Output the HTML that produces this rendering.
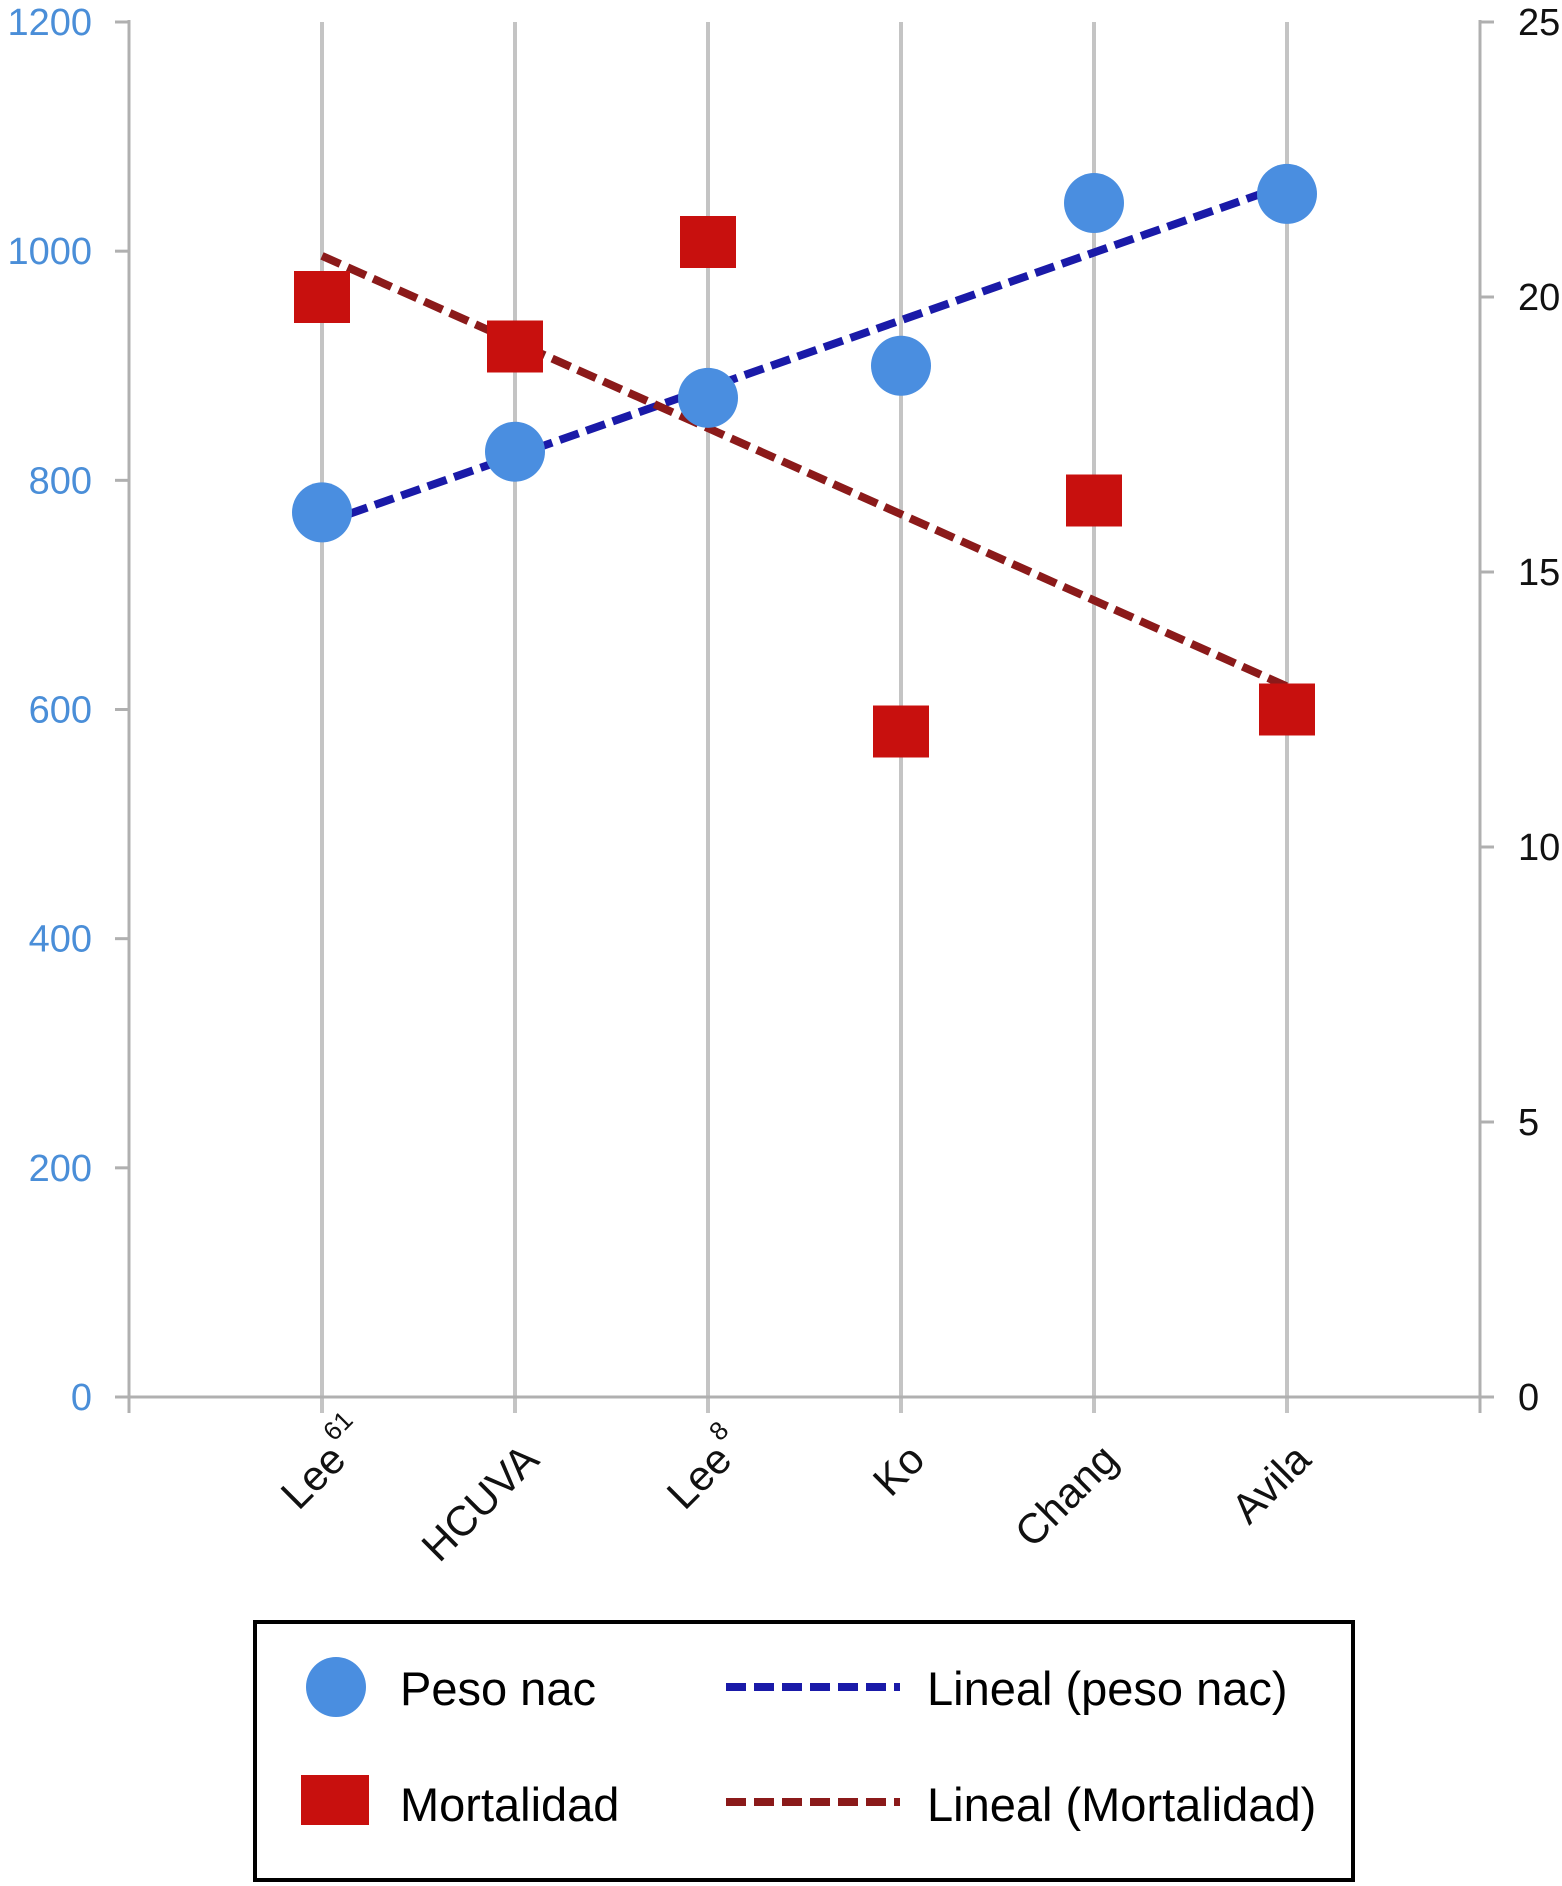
<!DOCTYPE html>
<html><head><meta charset="utf-8"><style>
body{margin:0;background:#fff;}
svg{display:block;font-family:"Liberation Sans",sans-serif;}
</style></head><body>
<svg id="chart" width="1562" height="1886" viewBox="0 0 1562 1886">
<g id="grid"></g>
<g id="axes"></g>
<g id="trends"></g>
<g id="marks"></g>
<g id="xlabels"></g>
<g>
  <rect x="255" y="1622" width="1098" height="258" fill="none" stroke="#000" stroke-width="4"/>
  <circle cx="336" cy="1687" r="30" fill="#4a8ee0"/>
  <text x="400" y="1705" font-size="47" fill="#000">Peso nac</text>
  <rect x="301" y="1775" width="68" height="50" fill="#c8100e"/>
  <text x="400" y="1821" font-size="47" fill="#000">Mortalidad</text>
  <line x1="726" y1="1687" x2="900" y2="1687" stroke="#1a1aa8" stroke-width="8" stroke-dasharray="20,8"/>
  <text x="927" y="1705" font-size="47" fill="#000">Lineal (peso nac)</text>
  <line x1="726" y1="1802" x2="900" y2="1802" stroke="#8b1a1a" stroke-width="8" stroke-dasharray="20,8"/>
  <text x="927" y="1821" font-size="47" fill="#000">Lineal (Mortalidad)</text>
</g>
</svg>
<script>
const categories = ["Lee", "HCUVA", "Lee", "Ko", "Chang", "Avila"];
const superscripts = ["61", "", "8", "", "", ""];
const pesoValues = [772, 825, 872, 900, 1042, 1050];
const mortalidadValues = [20.0, 19.1, 21.0, 12.1, 16.3, 12.5];
const leftTicks = [0, 200, 400, 600, 800, 1000, 1200];
const rightTicks = [0, 5, 10, 15, 20, 25];

const NS = "http://www.w3.org/2000/svg";
const X0 = 129, X1 = 1480, Y0 = 1397, YT = 22;
const n = categories.length;
const step = (X1 - X0) / (n + 1);
function xPos(i){ return X0 + step * (i + 1); }
function yLeft(v){ return Y0 - (v / 1200) * (Y0 - YT); }
function yRight(v){ return Y0 - (v / 25) * (Y0 - YT); }
function mk(tag, attrs, parent){ const e = document.createElementNS(NS, tag); for (const k in attrs) e.setAttribute(k, attrs[k]); parent.appendChild(e); return e; }

const grid = document.getElementById('grid'), axes = document.getElementById('axes'),
  trends = document.getElementById('trends'), marks = document.getElementById('marks'), xl = document.getElementById('xlabels');

for (let i = 0; i < n; i++) {
  const l = mk('line', {x1: xPos(i), y1: YT, x2: xPos(i), y2: 1413, stroke: '#c4c4c4', 'stroke-width': 4}, grid);
  
  
}
const la = mk('line', {x1: X0, y1: YT - 2, x2: X0, y2: 1413, stroke: '#b0b0b0', 'stroke-width': 3}, axes);
 
const ra = mk('line', {x1: X1, y1: YT - 2, x2: X1, y2: 1413, stroke: '#b0b0b0', 'stroke-width': 3}, axes);
 
const xa = mk('line', {x1: X0, y1: Y0, x2: X1 + 12, y2: Y0, stroke: '#b0b0b0', 'stroke-width': 3}, axes);
 
leftTicks.forEach(v => {
  const y = yLeft(v);
  mk('line', {x1: X0 - 14, y1: y, x2: X0, y2: y, stroke: '#b0b0b0', 'stroke-width': 3}, axes);
  const t = mk('text', {x: 92, y: y + 13, 'text-anchor': 'end', 'font-size': 38, fill: '#4a8ed8'}, axes);
  t.textContent = v;
  
  
});
rightTicks.forEach(v => {
  const y = yRight(v);
  mk('line', {x1: X1, y1: y, x2: X1 + 14, y2: y, stroke: '#b0b0b0', 'stroke-width': 3}, axes);
  const t = mk('text', {x: 1518, y: y + 13, 'font-size': 38, fill: '#111'}, axes);
  t.textContent = v;
  
  
});
function fit(vals){ const m = vals.length, mx = (m - 1) / 2, my = vals.reduce((a, b) => a + b, 0) / m;
  let sxy = 0, sxx = 0; vals.forEach((v, i) => { sxy += (i - mx) * (v - my); sxx += (i - mx) * (i - mx); });
  const b = sxy / sxx; return [my - b * mx, my + b * (m - 1 - mx)]; }
const pf = fit(pesoValues), mf = fit(mortalidadValues);
const tp = mk('line', {x1: xPos(0), y1: yLeft(pf[0]), x2: xPos(n - 1), y2: yLeft(pf[1]), stroke: '#1a1aa8', 'stroke-width': 8, 'stroke-dasharray': '20,8'}, trends);
 
const tm = mk('line', {x1: xPos(0), y1: yRight(mf[0]), x2: xPos(n - 1), y2: yRight(mf[1]), stroke: '#8b1a1a', 'stroke-width': 8, 'stroke-dasharray': '20,8'}, trends);
 
mortalidadValues.forEach((v, i) => {
  const r = mk('rect', {x: xPos(i) - 28, y: yRight(v) - 26, width: 56, height: 52, fill: '#c8100e'}, marks);
  
  
});
pesoValues.forEach((v, i) => {
  const c = mk('circle', {cx: xPos(i), cy: yLeft(v), r: 30, fill: '#4a8ee0'}, marks);
  
  
});
categories.forEach((c, i) => {
  const x = xPos(i) + 26, y = 1462;
  const t = mk('text', {x: x, y: y, 'text-anchor': 'end', 'font-size': 42, fill: '#111', transform: `rotate(-45 ${x} ${y})`}, xl);
  t.textContent = c;
  
  
  if (superscripts[i]) {
    const s = mk('text', {x: x + 4, y: y - 24, 'font-size': 26, fill: '#111', transform: `rotate(-45 ${x} ${y})`}, xl);
    s.textContent = superscripts[i];
    
    
  }
});
</script>
</body></html>
